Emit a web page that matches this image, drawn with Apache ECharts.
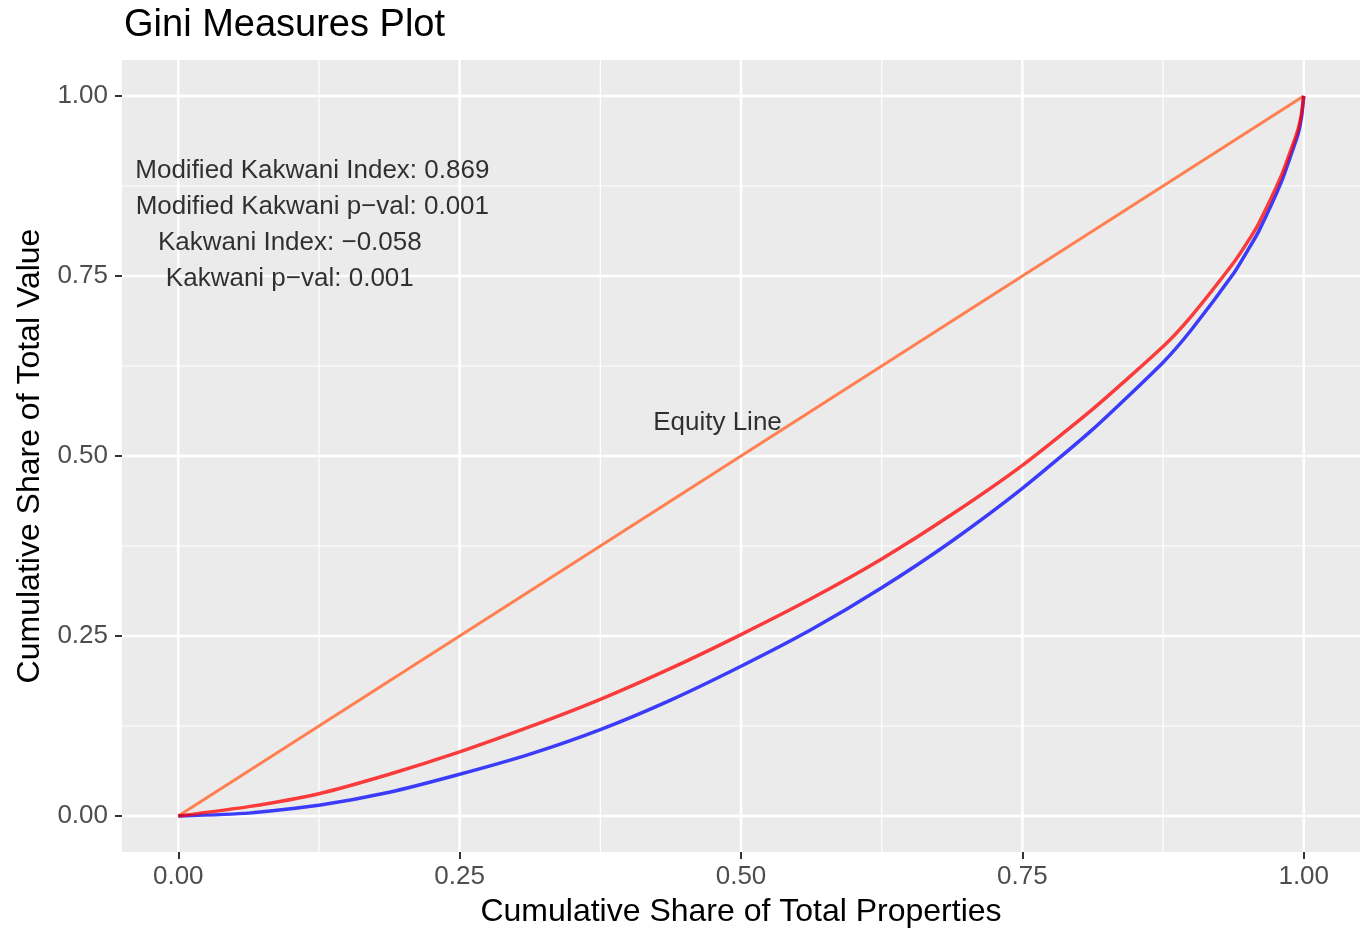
<!DOCTYPE html>
<html>
<head>
<meta charset="utf-8">
<title>Gini Measures Plot</title>
<script src="https://cdn.jsdelivr.net/npm/echarts@6/dist/echarts.min.js"></script>
<style>
  html, body { margin: 0; padding: 0; background: #ffffff; }
  #chart { width: 1361px; height: 929px; }
</style>
</head>
<body>
<div id="chart"></div>
<script>
// Cumulative shares along the x axis (share of total properties)
const shareProperties = [0, 0.0625, 0.125, 0.1875, 0.25, 0.3125, 0.375, 0.4375, 0.5, 0.5625,
  0.625, 0.6875, 0.75, 0.8125, 0.875, 0.9, 0.9375, 0.95, 0.96, 0.98, 0.99, 0.995, 0.998, 1];
// Concentration curve (red) and Lorenz curve (blue) of total value
const concentrationCurve = [0, 0.013, 0.031, 0.058, 0.089, 0.124, 0.162, 0.205, 0.252, 0.302,
  0.357, 0.419, 0.487, 0.565, 0.652, 0.694, 0.768, 0.797, 0.823, 0.889, 0.931, 0.954, 0.975, 1];
const lorenzCurve = [0, 0.004, 0.015, 0.033, 0.058, 0.086, 0.120, 0.161, 0.208, 0.259,
  0.317, 0.382, 0.455, 0.537, 0.630, 0.675, 0.753, 0.785, 0.812, 0.880, 0.924, 0.947, 0.970, 1];
// Equity line endpoints
const equityX = [0, 1];
const equityY = [0, 1];

// Axis range, ticks and grid
const axisMin = -0.05;
const axisMax = 1.05;
const majorTicks = [0, 0.25, 0.5, 0.75, 1];
const minorTicks = [0.125, 0.375, 0.625, 0.875];

// Annotation texts and their anchor points (data coordinates)
const statTexts = [
  'Modified Kakwani Index: 0.869',
  'Modified Kakwani p\u2212val: 0.001',
  'Kakwani Index: \u22120.058',
  'Kakwani p\u2212val: 0.001'
];
const statX = [0.12, 0.12, 0.10, 0.10];
const statY = [0.90, 0.85, 0.80, 0.75];
const equityLabel = 'Equity Line';
const equityLabelPos = [0.48, 0.55];

const FONT = '"Liberation Sans", Arial, Helvetica, sans-serif';

const pairs = (xs, ys) => xs.map((x, i) => [x, ys[i]]);

// white panel grid lines, one small line series per rule
function gridSeries(values, width) {
  const out = [];
  values.forEach(v => {
    [[[v, axisMin], [v, axisMax]], [[axisMin, v], [axisMax, v]]].forEach(d => {
      out.push({
        type: 'line',
        data: d,
        silent: true,
        showSymbol: false,
        z: 1,
        lineStyle: { color: '#ffffff', width: width }
      });
    });
  });
  return out;
}

const chart = echarts.init(document.getElementById('chart'), null, { renderer: 'canvas' });

const axisCommon = {
  type: 'value',
  min: axisMin,
  max: axisMax,
  splitLine: { show: false },
  axisLine: { show: false, onZero: false },
  axisTick: {
    show: true,
    customValues: majorTicks,
    length: 7,
    lineStyle: { color: '#333333', width: 2 }
  },
  axisLabel: {
    customValues: majorTicks,
    formatter: v => v.toFixed(2),
    color: '#4d4d4d',
    fontSize: 26,
    fontFamily: FONT
  },
  nameLocation: 'middle',
  nameTextStyle: { color: '#000000', fontSize: 32, fontFamily: FONT }
};

chart.setOption({
  animation: false,
  backgroundColor: '#ffffff',
  title: {
    text: 'Gini Measures Plot',
    left: 119,
    top: 2,
    textStyle: { color: '#000000', fontSize: 38, fontWeight: 'normal', fontFamily: FONT }
  },
  grid: {
    left: 122,
    top: 60,
    width: 1238,
    height: 792,
    containLabel: false,
    outerBoundsMode: 'none',
    show: true,
    backgroundColor: '#ebebeb',
    borderWidth: 0
  },
  xAxis: Object.assign({}, axisCommon, {
    name: 'Cumulative Share of Total Properties',
    nameGap: 44,
    axisLabel: Object.assign({}, axisCommon.axisLabel, { margin: 12 })
  }),
  yAxis: Object.assign({}, axisCommon, {
    name: 'Cumulative Share of Total Value',
    nameGap: 74,
    axisLabel: Object.assign({}, axisCommon.axisLabel, { margin: 14 })
  }),
  series: gridSeries(minorTicks, 1.2).concat(gridSeries(majorTicks, 2.5)).concat([
    {
      name: 'Equity Line',
      type: 'line',
      data: pairs(equityX, equityY),
      showSymbol: false,
      z: 3,
      lineStyle: { color: '#ff7f50', width: 3 }
    },
    {
      name: 'Lorenz',
      type: 'line',
      data: pairs(shareProperties, lorenzCurve),
      smooth: 0.2,
      showSymbol: false,
      z: 4,
      lineStyle: { color: 'rgba(0,0,255,0.75)', width: 3.5 }
    },
    {
      name: 'Concentration',
      type: 'line',
      data: pairs(shareProperties, concentrationCurve),
      smooth: 0.2,
      showSymbol: false,
      z: 5,
      lineStyle: { color: 'rgba(255,0,0,0.75)', width: 3.5 }
    },
    {
      // text annotations
      type: 'scatter',
      symbolSize: 0,
      silent: true,
      z: 6,
      data: statTexts.map((t, i) => ({ value: [statX[i], statY[i]], name: t }))
        .concat([{ value: equityLabelPos, name: equityLabel }]),
      label: {
        show: true,
        position: 'inside',
        offset: [-1, 3],
        formatter: p => p.name,
        color: '#000000',
        fontSize: 26,
        fontFamily: FONT
      }
    }
  ])
});
</script>
</body>
</html>
